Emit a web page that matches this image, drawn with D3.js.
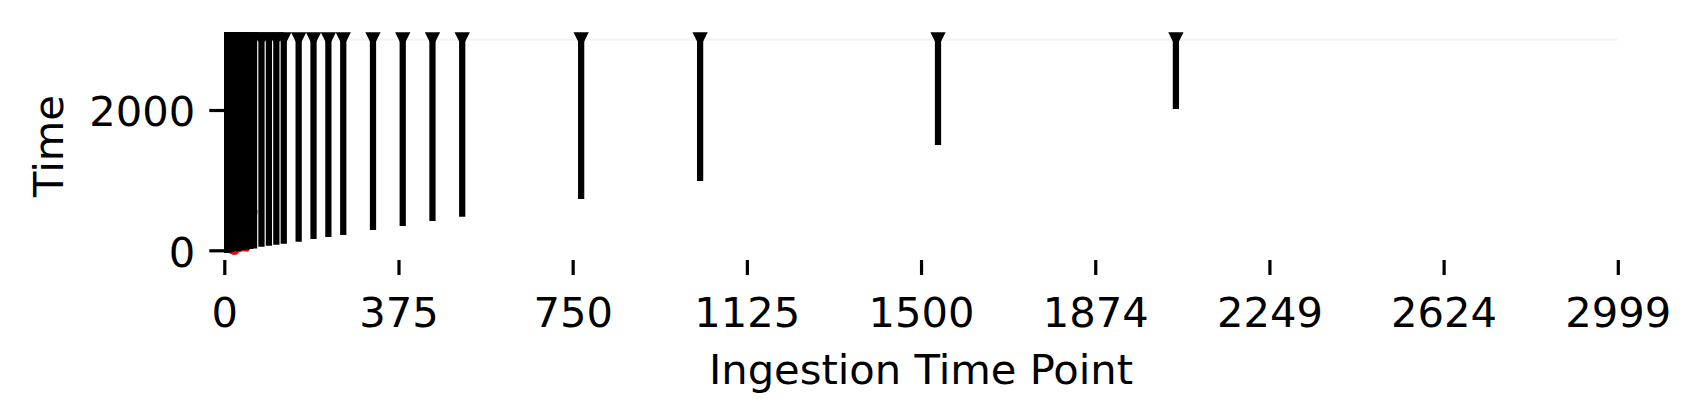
<!DOCTYPE html>
<html>
<head>
<meta charset="utf-8">
<script src="https://cdn.jsdelivr.net/npm/d3@7"></script>
<style>
  html, body { margin: 0; padding: 0; background: #ffffff; }
  svg { display: block; }
  text { font-family: "DejaVu Sans", sans-serif; fill: #000; }
</style>
</head>
<body>
<svg id="chart" width="1701" height="420"></svg>
<script>
// ---- data ----
const ingestPoints = [0,1,2,3,4,5,6,7,8,10,12,14,16,20,24,28,32,40,48,56,64,80,96,112,128,160,192,224,256,320,384,448,512,768,1024,1536,2048];
const startTimes   = [-37,-36,-35,-34,-33,-32,-31,-30,-29,-27,-25,-23,-21,-17,-13,-9,-5,3,11,19,27,51,66,80,94,123,161,190,218,289,346,418,479,731,988,1501,2014];
const endTime = 3000;
const redX = [10,14,20,26,30,40,50,60,66,69];
const redY = [-10,-30,-45,-40,-12,8,2,100,420,575];
const xTickValues = [0,374.875,749.75,1124.625,1499.5,1874.375,2249.25,2624.125,2999];
const xTickLabels = ["0","375","750","1125","1500","1874","2249","2624","2999"];
const yTickValues = [0,2000];
const yTickLabels = ["0","2000"];
const xMax = 2999;

// ---- layout ----
const svg = d3.select("#chart");
const x = d3.scaleLinear().domain([0, xMax]).range([224.3, 1617.8]);
const y = d3.scaleLinear().domain([0, 2000]).range([250.3, 110]);
const axesBottom = 260;
const fontPx = 41.67;

svg.append("defs").append("clipPath").attr("id", "clip")
  .append("rect").attr("x", x(0)).attr("y", 0)
  .attr("width", x(xMax) - x(0)).attr("height", axesBottom);

const plot = svg.append("g").attr("clip-path", "url(#clip)");

// faint reference line at the end time
plot.append("line")
  .attr("x1", x(0)).attr("x2", x(xMax))
  .attr("y1", y(endTime)).attr("y2", y(endTime))
  .attr("stroke", "#f4f4f4").attr("stroke-width", 2);

// red series (mostly hidden)
const redData = redX.map((d, i) => [d, redY[i]]);
plot.append("path")
  .datum(redData)
  .attr("fill", "none")
  .attr("stroke", "#ff0000")
  .attr("stroke-width", 2.8)
  .attr("d", d3.line().x(d => x(d[0])).y(d => y(d[1])));

// black vertical lines
const data = ingestPoints.map((p, i) => ({p, s: startTimes[i]}));
plot.selectAll("line.v").data(data).enter().append("line")
  .attr("class", "v")
  .attr("x1", d => x(d.p)).attr("x2", d => x(d.p))
  .attr("y1", d => y(d.s)).attr("y2", d => y(endTime))
  .attr("stroke", "#000").attr("stroke-width", 6.25)
  .attr("stroke-linecap", "butt");

// triangle-down markers at the top
const half = 7.65;
plot.selectAll("path.m").data(data).enter().append("path")
  .attr("class", "m")
  .attr("d", d => {
    const cx = x(d.p), cy = y(endTime);
    return `M${cx - half},${cy - half}L${cx + half},${cy - half}L${cx},${cy + half}Z`;
  })
  .attr("fill", "#000");

// ---- axes ----
const xAxis = d3.axisBottom(x)
  .tickValues(xTickValues)
  .tickFormat((d, i) => xTickLabels[i])
  .tickSize(15).tickSizeOuter(0).tickPadding(22);
const gx = svg.append("g").attr("transform", `translate(0,${axesBottom})`).call(xAxis);
gx.select(".domain").remove();
gx.selectAll(".tick line").attr("stroke", "#000").attr("stroke-width", 3.2);
gx.selectAll(".tick text").attr("font-size", fontPx).attr("font-family", "DejaVu Sans").attr("fill", "#000");

const yAxis = d3.axisLeft(y)
  .tickValues(yTickValues)
  .tickFormat((d, i) => yTickLabels[i])
  .tickSize(15).tickSizeOuter(0).tickPadding(14);
const gy = svg.append("g").attr("transform", `translate(${x(0)},0)`).call(yAxis);
gy.select(".domain").remove();
gy.selectAll(".tick line").attr("stroke", "#000").attr("stroke-width", 3.2);
gy.selectAll(".tick text").attr("font-size", fontPx).attr("font-family", "DejaVu Sans")
  .attr("fill", "#000").attr("dy", "0.38em");

// axis labels
svg.append("text")
  .attr("x", (x(0) + x(xMax)) / 2).attr("y", 384)
  .attr("text-anchor", "middle").attr("font-size", fontPx)
  .text("Ingestion Time Point");

svg.append("text")
  .attr("transform", "translate(63,146) rotate(-90)")
  .attr("text-anchor", "middle").attr("font-size", fontPx)
  .text("Time");
</script>
</body>
</html>
